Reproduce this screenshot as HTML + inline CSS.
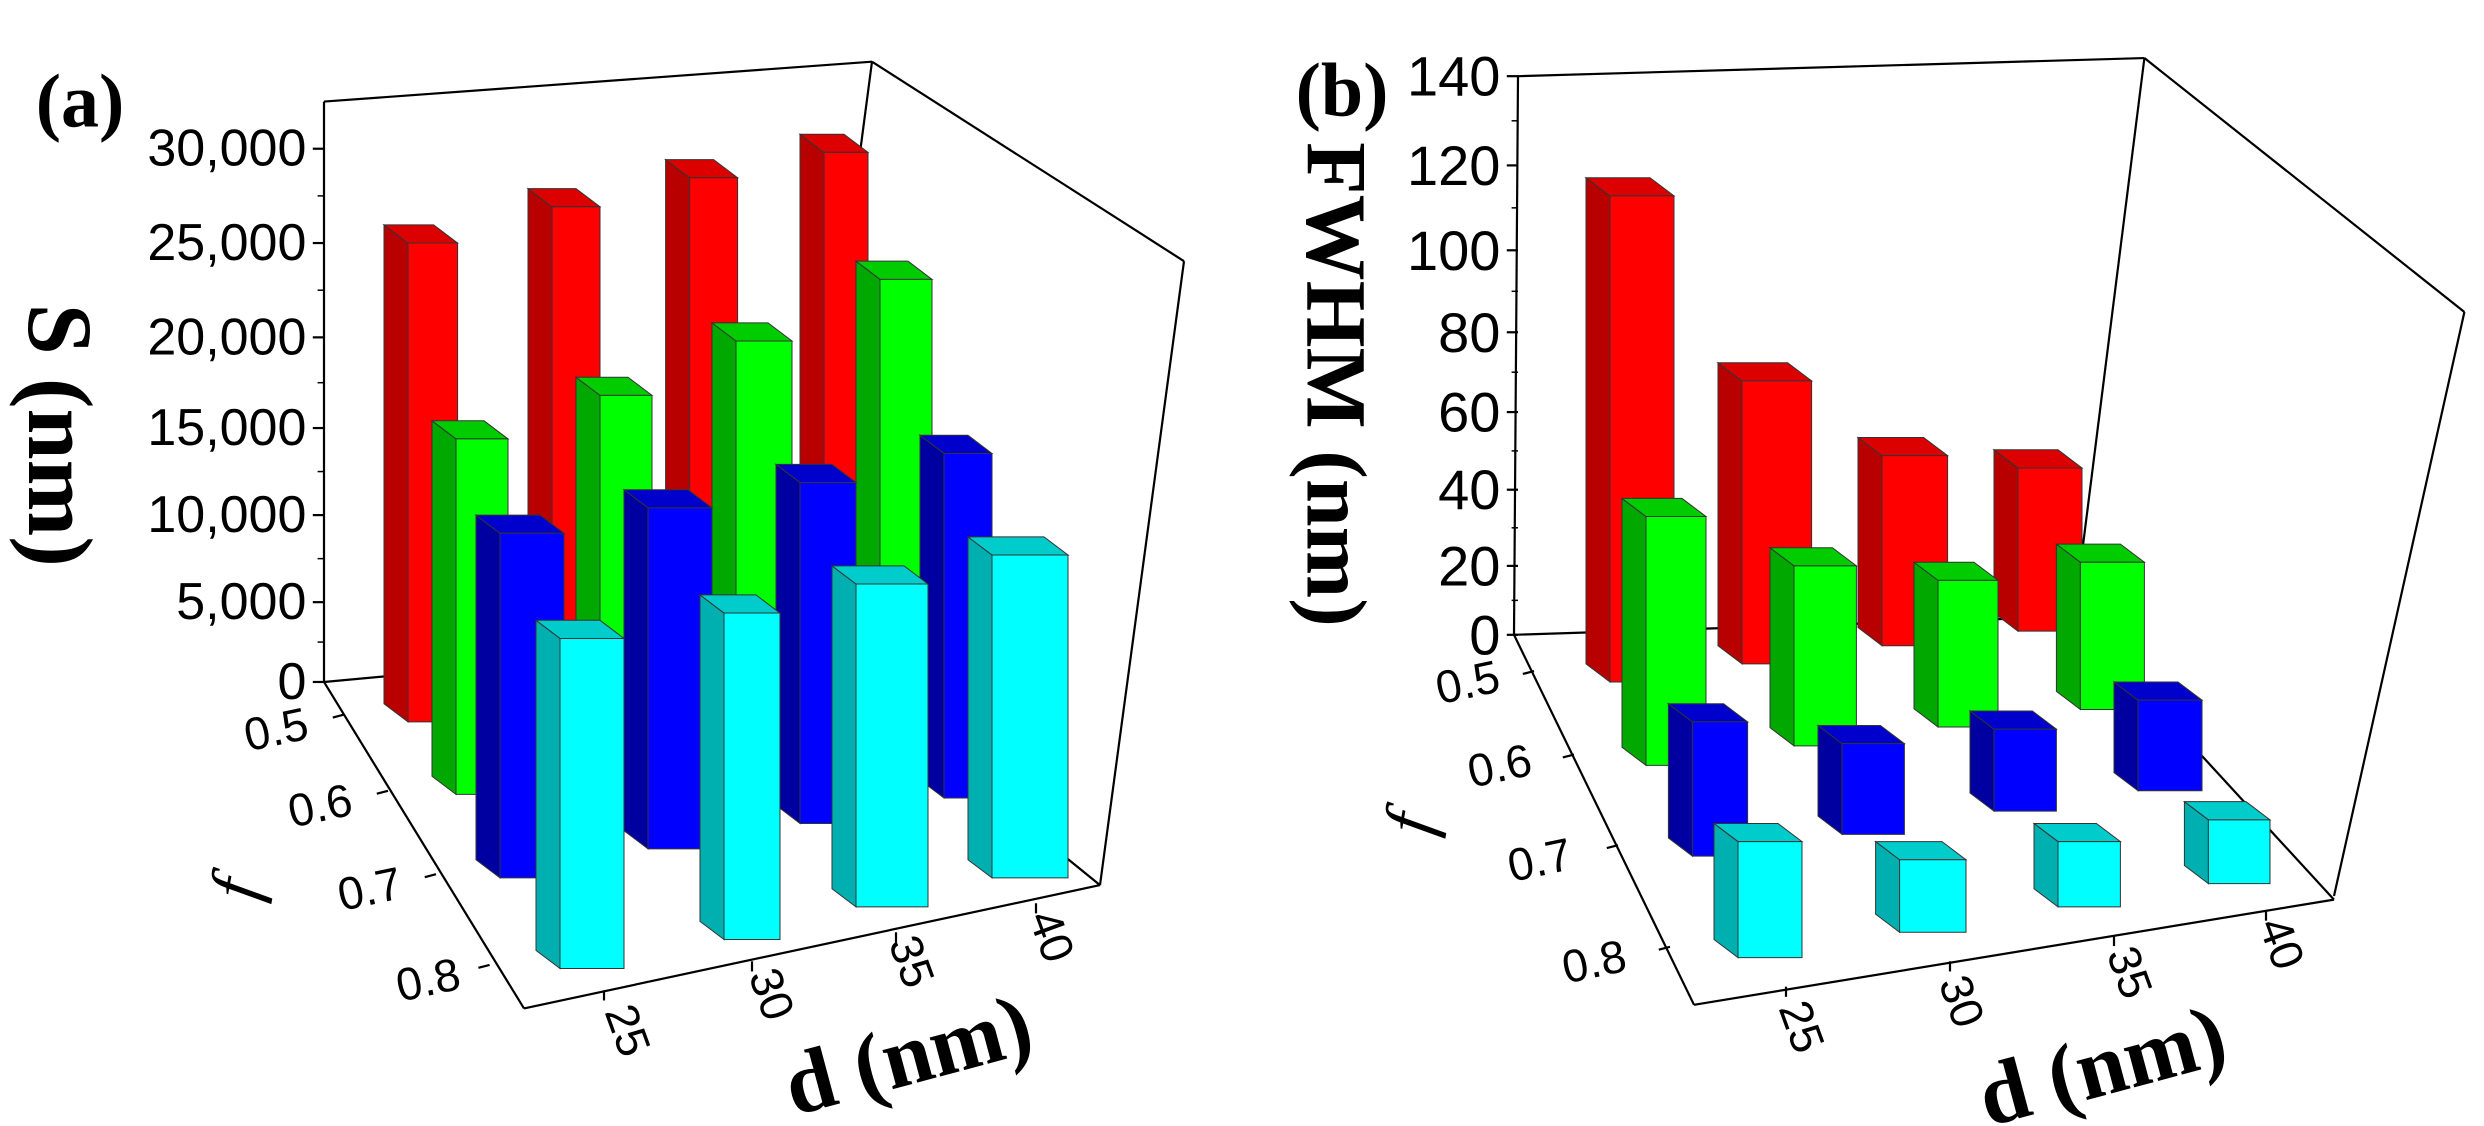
<!DOCTYPE html>
<html><head><meta charset="utf-8">
<style>html,body{margin:0;padding:0;background:#fff;}svg{display:block;}</style>
</head><body>
<svg id="s" xmlns="http://www.w3.org/2000/svg" width="2484" height="1126" viewBox="0 0 2484 1126"></svg>
<script>
const SX=0.8, SY=0.7255;
let out='';
function P(p,x,y){return [(p?1242:0)+x*SX, y*SY];}
function line(p,a,b,c,d,w){const A=P(p,a,b),B=P(p,c,d);out+=`<line x1="${A[0]}" y1="${A[1]}" x2="${B[0]}" y2="${B[1]}" stroke="#000" stroke-width="${w||2.2}"/>`;}
function poly(p,pts,fill){out+=`<polygon points="${pts.map(q=>P(p,q[0],q[1]).join(',')).join(' ')}" fill="${fill}" stroke="#333" stroke-width="1"/>`;}
function text(p,x,y,str,size,opts){const A=P(p,x,y);opts=opts||{};
 out+=`<text x="0" y="0" transform="translate(${A[0]},${A[1]}) rotate(${opts.rot||0})" font-family="${opts.serif?'Liberation Serif':'Liberation Sans'}, serif" font-size="${size}" font-weight="${opts.bold?'bold':'normal'}" font-style="${opts.it?'italic':'normal'}" text-anchor="${opts.anchor||'middle'}" dominant-baseline="central">${str}</text>`;}
const C={r:['#ff0000','#b80000','#dd0000'],g:['#00ff00','#00a800','#00cc00'],b:['#0000ff','#0000a0','#0000cc'],c:['#00ffff','#00b0b0','#00cccc']};
function bar(p,xl,xr,t,b,col){const dx=-30,dy=-25;const c=C[col];
 poly(p,[[xl,t],[xl+dx,t+dy],[xl+dx,b+dy],[xl,b]],c[1]);
 poly(p,[[xl,t],[xl+dx,t+dy],[xr+dx,t+dy],[xr,t]],c[2]);
 poly(p,[[xl,t],[xr,t],[xr,b],[xl,b]],c[0]);}
function panel(p,cfg){
 const L=cfg.lines;L.forEach(l=>line(p,...l));
 // y ticks
 cfg.yt.forEach((v,i)=>{line(p,cfg.ax,v[1],cfg.ax-14,v[1]);text(p,cfg.ax-22,v[1],v[0],cfg.yfs,{anchor:'end'});
   if(i<cfg.yt.length-1){const m=(v[1]+cfg.yt[i+1][1])/2;line(p,cfg.ax,m,cfg.ax-8,m,1.5);}});
 // f ticks
 cfg.ft.forEach(v=>{text(p,v[1],v[2],v[0],46,{rot:-12});});
 cfg.ftk.forEach(v=>line(p,v[0],v[1],v[0]-14,v[1]+4));
 cfg.dt.forEach(v=>{text(p,v[1],v[2],v[0],46,{rot:70});});
 cfg.dtk.forEach(v=>line(p,v[0],v[1],v[0],v[1]+14));
 cfg.bars.forEach(b=>bar(p,...b));
}
// Panel a
panel(0,{ax:405,yfs:52,
 lines:[[405,140,405,940],[405,140,1090,85],[1090,85,1480,360],[1480,360,1375,1220],[405,940,655,1390],[655,1390,1375,1220],[1090,85,995,880],[405,940,995,880],[995,880,1375,1220]],
 yt:[['30,000',205],['25,000',335],['20,000',465],['15,000',590],['10,000',710],['5,000',830],['0',940]],
 ft:[['0.5',345,1005],['0.6',400,1110],['0.7',462,1225],['0.8',535,1350]],
 ftk:[[430,985],[485,1090],[545,1205],[612,1330]],
 dt:[['25',785,1420],['30',965,1370],['35',1140,1325],['40',1315,1290]],
 dtk:[[755,1365],[940,1325],[1120,1285],[1295,1245]],
 bars:[[1030,1085,210,920,'r'],[862,922,245,945,'r'],[690,750,285,970,'r'],[510,572,335,995,'r'],
  [1100,1165,385,1010,'g'],[920,990,470,1040,'g'],[750,815,545,1070,'g'],[570,635,605,1095,'g'],
  [1180,1240,625,1100,'b'],[1000,1070,665,1135,'b'],[810,890,700,1170,'b'],[625,705,735,1210,'b'],
  [1240,1335,765,1210,'c'],[1070,1160,805,1250,'c'],[905,975,845,1295,'c'],[700,780,880,1335,'c']]});
text(0,100,140,'(a)',76,{serif:1,bold:1});
text(0,75,600,'S (nm)',92,{serif:1,bold:1,rot:90});
text(0,295,1225,'f',70,{serif:1,it:1,rot:-80});
text(0,1135,1455,'d (nm)',88,{serif:1,bold:1,rot:-15});
// Panel b
panel(1,{ax:345,yfs:56,
 lines:[[345,105,340,875],[345,105,1128,80],[1128,80,1528,430],[1528,430,1365,1235],[340,875,565,1385],[565,1385,1365,1240],[1128,80,1040,850],[340,875,1040,850],[1040,850,1365,1240]],
 yt:[['140',105],['120',228],['100',345],['80',458],['60',568],['40',675],['20',780],['0',875]],
 ft:[['0.5',282,940],['0.6',322,1055],['0.7',372,1185],['0.8',440,1325]],
 ftk:[[365,925],[415,1040],[470,1165],[535,1305]],
 dt:[['25',700,1415],['30',900,1380],['35',1110,1340],['40',1300,1300]],
 dtk:[[680,1360],[885,1325],[1090,1290],[1280,1255]],
 bars:[[970,1050,645,870,'r'],[800,882,628,890,'r'],[625,712,525,915,'r'],[460,540,270,940,'r'],
  [1048,1128,775,978,'g'],[870,945,800,1002,'g'],[690,768,780,1028,'g'],[505,580,712,1055,'g'],
  [1120,1200,965,1090,'b'],[940,1018,1005,1118,'b'],[750,828,1025,1150,'b'],[563,632,995,1180,'b'],
  [1208,1285,1130,1218,'c'],[1020,1098,1160,1250,'c'],[822,905,1185,1285,'c'],[620,700,1160,1320,'c']]});
text(1,125,125,'(b)',76,{serif:1,bold:1});
text(1,118,530,'FWHM (nm)',86,{serif:1,bold:1,rot:90});
text(1,210,1135,'f',70,{serif:1,it:1,rot:-80});
text(1,1075,1470,'d (nm)',88,{serif:1,bold:1,rot:-15});
document.getElementById('s').innerHTML=out;
</script>
</body></html>
